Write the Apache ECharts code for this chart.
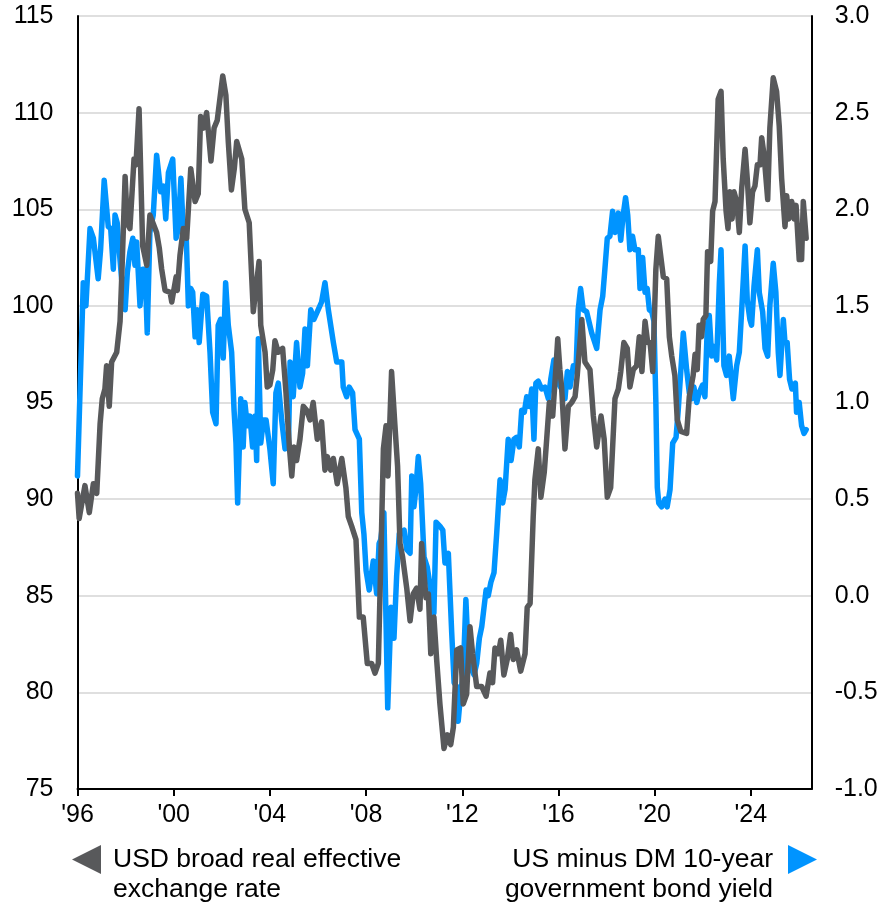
<!DOCTYPE html>
<html>
<head>
<meta charset="utf-8">
<script src="https://cdn.jsdelivr.net/npm/echarts@6/dist/echarts.min.js"></script>
<style>
  html, body { margin: 0; padding: 0; background: #fff; }
  #main { width: 883px; height: 908px; }
</style>
</head>
<body>
<div id="main"></div>
<script>
// x tick labels (years)
var yearTicks = [1996, 2000, 2004, 2008, 2012, 2016, 2020, 2024];

// USD broad real effective exchange rate (left axis)
var reerDates = [
  1996.00, 1996.07, 1996.31, 1996.49, 1996.66, 1996.80, 1996.94, 1997.03, 1997.14, 1997.21,
  1997.32, 1997.42, 1997.63, 1997.77, 1997.84, 1997.98, 1998.07, 1998.18, 1998.35, 1998.43,
  1998.56, 1998.71, 1998.88, 1999.01, 1999.29, 1999.40, 1999.50, 1999.64, 1999.85, 1999.92,
  2000.10, 2000.15, 2000.26, 2000.40, 2000.54, 2000.71, 2000.89, 2001.02, 2001.12, 2001.23,
  2001.37, 2001.55, 2001.68, 2001.81, 2002.04, 2002.17, 2002.27, 2002.40, 2002.52, 2002.62,
  2002.83, 2002.96, 2003.14, 2003.31, 2003.42, 2003.55, 2003.62, 2003.80, 2003.89, 2004.00,
  2004.12, 2004.21, 2004.35, 2004.53, 2004.67, 2004.81, 2004.91, 2005.00, 2005.11, 2005.25,
  2005.39, 2005.53, 2005.67, 2005.80, 2005.97, 2006.15, 2006.29, 2006.39, 2006.53, 2006.64,
  2006.80, 2006.99, 2007.16, 2007.26, 2007.40, 2007.58, 2007.72, 2007.88, 2008.05, 2008.23,
  2008.37, 2008.51, 2008.65, 2008.72, 2008.83, 2008.91, 2009.06, 2009.20, 2009.31, 2009.41,
  2009.52, 2009.69, 2009.83, 2009.96, 2010.10, 2010.24, 2010.31, 2010.49, 2010.59, 2010.69,
  2010.82, 2010.94, 2011.07, 2011.24, 2011.38, 2011.52, 2011.63, 2011.77, 2011.93, 2012.04,
  2012.18, 2012.32, 2012.43, 2012.60, 2012.81, 2012.99, 2013.15, 2013.26, 2013.36, 2013.50,
  2013.60, 2013.73, 2013.87, 2014.01, 2014.12, 2014.26, 2014.43, 2014.61, 2014.70, 2014.82,
  2014.95, 2015.02, 2015.16, 2015.27, 2015.41, 2015.51, 2015.62, 2015.76, 2015.90, 2015.97,
  2016.06, 2016.13, 2016.27, 2016.41, 2016.55, 2016.69, 2016.78, 2016.97, 2017.10, 2017.31,
  2017.45, 2017.59, 2017.77, 2017.90, 2018.03, 2018.17, 2018.35, 2018.49, 2018.59, 2018.72,
  2018.86, 2018.97, 2019.11, 2019.25, 2019.36, 2019.47, 2019.60, 2019.71, 2019.81, 2019.92,
  2020.05, 2020.15, 2020.36, 2020.50, 2020.61, 2020.71, 2020.84, 2020.94, 2021.09, 2021.33,
  2021.44, 2021.60, 2021.68, 2021.77, 2021.85, 2021.95, 2022.02, 2022.13, 2022.20, 2022.33,
  2022.41, 2022.51, 2022.64, 2022.76, 2022.85, 2022.97, 2023.05, 2023.13, 2023.22, 2023.30,
  2023.41, 2023.52, 2023.62, 2023.76, 2023.85, 2023.96, 2024.07, 2024.17, 2024.27, 2024.38,
  2024.45, 2024.55, 2024.70, 2024.79, 2024.93, 2025.07, 2025.18, 2025.28, 2025.42, 2025.49,
  2025.58, 2025.70, 2025.80, 2025.88, 2026.01, 2026.11, 2026.18, 2026.30
];
var reerValues = [
  90.3, 89.0, 90.7, 89.3, 90.8, 90.3, 93.9, 95.2, 95.7, 96.9,
  94.8, 97.1, 97.6, 99.2, 101.5, 106.7, 104.3, 104.0, 107.6, 107.3,
  110.2, 103.1, 102.1, 104.7, 103.8, 103.0, 101.9, 100.8, 100.7, 100.2,
  101.5, 100.8, 102.6, 104.0, 103.5, 107.1, 105.4, 105.8, 109.8, 109.2,
  110.0, 107.5, 109.2, 109.6, 111.9, 110.9, 108.5, 106.0, 107.1, 108.5,
  107.6, 105.0, 104.3, 99.7, 100.9, 102.3, 99.0, 97.6, 95.8, 95.9,
  96.7, 98.2, 97.6, 97.8, 95.5, 92.7, 91.2, 92.7, 92.0, 93.1,
  94.8, 94.6, 94.1, 95.0, 93.1, 94.0, 91.5, 92.2, 91.5, 92.1,
  90.8, 92.1, 90.6, 89.1, 88.6, 87.9, 83.9, 83.9, 81.5, 81.5,
  81.0, 81.5, 88.8, 92.6, 93.8, 91.2, 96.6, 93.8, 91.7, 87.7,
  87.0, 85.4, 83.7, 85.1, 85.4, 84.3, 87.7, 84.9, 85.1, 82.0,
  83.9, 81.6, 79.4, 77.1, 77.8, 77.3, 78.2, 82.2, 82.3, 79.4,
  79.9, 83.4, 82.0, 80.3, 80.3, 79.8, 81.0, 80.5, 82.3, 82.0,
  82.7, 80.9, 81.7, 83.0, 81.7, 82.2, 81.1, 82.0, 84.4, 84.6,
  89.1, 91.0, 92.6, 90.1, 91.4, 93.1, 95.0, 94.3, 96.9, 98.3,
  96.7, 95.8, 92.6, 94.8, 95.0, 95.3, 96.4, 99.3, 97.1, 96.7,
  94.3, 92.7, 94.3, 93.1, 90.1, 90.6, 95.2, 95.7, 96.6, 98.1,
  97.8, 95.8, 96.7, 96.9, 98.4, 96.6, 99.2, 98.1, 98.1, 96.6,
  101.9, 103.6, 101.5, 101.4, 98.4, 97.4, 96.4, 94.1, 93.5, 93.4,
  95.3, 96.4, 97.5, 96.7, 99.0, 98.4, 99.3, 99.5, 102.8, 102.3,
  104.9, 105.4, 110.7, 111.1, 107.6, 104.9, 104.0, 105.9, 104.5, 105.9,
  105.4, 103.8, 106.1, 108.1, 106.6, 104.3, 105.9, 106.2, 107.3, 107.3,
  108.7, 107.8, 105.5, 109.2, 111.8, 111.1, 109.3, 106.6, 104.1, 105.7,
  104.5, 105.4, 104.5, 105.2, 102.4, 102.4, 105.4, 103.5
];

// US minus DM 10-year government bond yield (right axis)
var yieldDates = [
  1996.00, 1996.24, 1996.35, 1996.52, 1996.66, 1996.86, 1996.96, 1997.11, 1997.28, 1997.38,
  1997.49, 1997.56, 1997.65, 1997.74, 1997.88, 1997.98, 1998.07, 1998.18, 1998.30, 1998.39,
  1998.46, 1998.60, 1998.71, 1998.81, 1998.90, 1999.01, 1999.15, 1999.29, 1999.46, 1999.57,
  1999.67, 1999.78, 1999.96, 2000.10, 2000.19, 2000.30, 2000.40, 2000.51, 2000.61, 2000.71,
  2000.79, 2000.89, 2000.98, 2001.06, 2001.21, 2001.37, 2001.51, 2001.62, 2001.76, 2001.85,
  2001.95, 2002.06, 2002.16, 2002.27, 2002.41, 2002.51, 2002.59, 2002.66, 2002.79, 2002.89,
  2002.96, 2003.06, 2003.17, 2003.28, 2003.38, 2003.45, 2003.52, 2003.62, 2003.73, 2003.84,
  2004.00, 2004.14, 2004.25, 2004.35, 2004.49, 2004.63, 2004.77, 2004.84, 2004.97, 2005.11,
  2005.25, 2005.36, 2005.46, 2005.56, 2005.70, 2005.83, 2006.01, 2006.15, 2006.29, 2006.43,
  2006.64, 2006.78, 2006.99, 2007.05, 2007.19, 2007.30, 2007.44, 2007.54, 2007.72, 2007.82,
  2007.91, 2008.00, 2008.13, 2008.30, 2008.44, 2008.54, 2008.61, 2008.74, 2008.90, 2009.04,
  2009.16, 2009.27, 2009.38, 2009.58, 2009.69, 2009.83, 2009.90, 2009.99, 2010.07, 2010.17,
  2010.27, 2010.41, 2010.54, 2010.69, 2010.82, 2010.91, 2011.07, 2011.19, 2011.28, 2011.42,
  2011.56, 2011.66, 2011.77, 2011.83, 2011.93, 2012.04, 2012.15, 2012.25, 2012.35, 2012.49,
  2012.60, 2012.71, 2012.81, 2012.99, 2013.08, 2013.19, 2013.32, 2013.43, 2013.57, 2013.68,
  2013.78, 2013.91, 2014.03, 2014.15, 2014.26, 2014.37, 2014.47, 2014.58, 2014.68, 2014.79,
  2014.89, 2014.98, 2015.06, 2015.16, 2015.30, 2015.44, 2015.58, 2015.68, 2015.81, 2015.99,
  2016.13, 2016.27, 2016.37, 2016.48, 2016.62, 2016.73, 2016.82, 2016.92, 2017.03, 2017.17,
  2017.38, 2017.59, 2017.73, 2017.84, 2017.93, 2018.03, 2018.14, 2018.25, 2018.35, 2018.49,
  2018.59, 2018.69, 2018.79, 2018.88, 2018.97, 2019.08, 2019.18, 2019.32, 2019.39, 2019.50,
  2019.60, 2019.69, 2019.78, 2019.88, 2019.97, 2020.05, 2020.11, 2020.17, 2020.29, 2020.43,
  2020.52, 2020.64, 2020.75, 2020.89, 2020.98, 2021.19, 2021.33, 2021.44, 2021.54, 2021.63,
  2021.75, 2021.85, 2021.99, 2022.09, 2022.19, 2022.27, 2022.37, 2022.47, 2022.58, 2022.69,
  2022.76, 2022.88, 2022.99, 2023.10, 2023.27, 2023.41, 2023.52, 2023.62, 2023.76, 2023.85,
  2023.96, 2024.03, 2024.13, 2024.27, 2024.35, 2024.49, 2024.59, 2024.70, 2024.79, 2024.93,
  2025.04, 2025.14, 2025.21, 2025.35, 2025.42, 2025.51, 2025.61, 2025.71, 2025.85, 2025.90,
  2026.01, 2026.11, 2026.21, 2026.30
];
var yieldValues = [
  0.62, 1.62, 1.50, 1.90, 1.85, 1.64, 1.79, 2.15, 1.91, 1.90,
  1.69, 1.97, 1.93, 1.78, 1.57, 1.48, 1.67, 1.78, 1.85, 1.71,
  1.83, 1.50, 1.69, 1.69, 1.36, 1.88, 1.97, 2.28, 2.09, 2.12,
  1.95, 2.19, 2.26, 1.85, 1.90, 2.16, 1.88, 1.91, 1.50, 1.59,
  1.57, 1.34, 1.48, 1.31, 1.56, 1.55, 1.26, 0.95, 0.89, 1.40,
  1.43, 1.23, 1.62, 1.40, 1.26, 0.96, 0.79, 0.48, 1.02, 0.77,
  1.00, 0.88, 0.93, 0.77, 0.93, 0.70, 1.33, 0.79, 0.91, 0.91,
  0.76, 0.58, 1.05, 1.10, 0.91, 0.76, 0.77, 1.21, 1.03, 1.31,
  1.08, 1.15, 1.38, 1.19, 1.48, 1.43, 1.48, 1.52, 1.62, 1.48,
  1.31, 1.21, 1.21, 1.08, 1.03, 1.08, 1.05, 0.86, 0.81, 0.43,
  0.32, 0.13, 0.03, 0.18, 0.01, 0.27, 0.29, 0.43, -0.58, -0.06,
  -0.22, 0.10, 0.32, 0.34, 0.24, 0.22, 0.62, 0.46, 0.55, 0.72,
  0.58, 0.20, 0.15, 0.03, -0.09, 0.38, 0.36, 0.34, 0.17, 0.22,
  -0.19, -0.45, -0.47, -0.65, -0.51, -0.40, -0.02, -0.30, -0.37, -0.41,
  -0.35, -0.22, -0.16, 0.03, 0.00, 0.07, 0.12, 0.32, 0.60, 0.48,
  0.55, 0.81, 0.70, 0.81, 0.82, 0.77, 0.96, 0.95, 1.03, 0.98,
  1.07, 0.81, 1.10, 1.11, 1.07, 1.08, 1.02, 1.12, 1.22, 1.10,
  1.07, 1.02, 1.16, 1.08, 1.19, 1.17, 1.48, 1.59, 1.48, 1.47,
  1.36, 1.28, 1.48, 1.55, 1.69, 1.85, 1.86, 1.99, 1.88, 1.98,
  1.84, 1.97, 2.06, 1.97, 1.79, 1.86, 1.79, 1.79, 1.59, 1.75,
  1.57, 1.59, 1.48, 1.47, 1.42, 1.00, 0.56, 0.48, 0.46, 0.50,
  0.46, 0.55, 0.79, 0.82, 0.96, 1.36, 1.17, 1.05, 1.02, 1.08,
  1.00, 1.05, 1.09, 1.03, 1.40, 1.45, 1.24, 1.29, 1.22, 1.62,
  1.79, 1.19, 1.14, 1.24, 1.02, 1.19, 1.26, 1.48, 1.81, 1.53,
  1.43, 1.40, 1.60, 1.79, 1.57, 1.47, 1.28, 1.24, 1.50, 1.72,
  1.57, 1.26, 1.14, 1.43, 1.31, 1.31, 1.12, 1.07, 1.10, 0.95,
  1.00, 0.88, 0.84, 0.86
];

var reerName = "USD broad real effective\nexchange rate";
var yieldName = "US minus DM 10-year\ngovernment bond yield";

function pairs(xs, ys) {
  return xs.map(function (x, i) { return [x, ys[i]]; });
}

var font = "'Liberation Sans', Arial, sans-serif";
var myChart = echarts.init(document.getElementById("main"), null, { renderer: "canvas" });

// legend text: an empty first line keeps the icon level with the first text line
var legendText = {
  fontFamily: font,
  fontSize: 26.5,
  color: "#000",
  lineHeight: 30,
};

myChart.setOption({
  animation: false,
  textStyle: { fontFamily: font },
  grid: {
    left: 77.5,
    right: 71.3,
    top: 16,
    bottom: 119,
    containLabel: false,
  },
  legend: [
    {
      data: [reerName],
      left: 72,
      top: 814.5,
      padding: 0,
      selectedMode: false,
      itemWidth: 29,
      itemHeight: 29,
      icon: "path://M0,5L10,0L10,10Z",
      formatter: function (name) {
        return "\n" + name;
      },
      textStyle: Object.assign({ padding: [0, 0, 0, 7] }, legendText),
    },
    {
      data: [yieldName],
      right: 66,
      top: 814.5,
      padding: 0,
      align: "right",
      selectedMode: false,
      itemWidth: 29,
      itemHeight: 29,
      icon: "path://M0,0L10,5L0,10Z",
      formatter: function (name) {
        return "\n" + name;
      },
      textStyle: Object.assign({ padding: [0, 10, 0, 0] }, legendText),
    },
  ],
  xAxis: {
    type: "value",
    min: 1996,
    max: 2026.53,
    interval: 4,
    splitLine: { show: false },
    axisLine: { onZero: false, lineStyle: { color: "#000", width: 2 } },
    axisTick: {
      show: true,
      length: 7,
      customValues: yearTicks,
      lineStyle: { color: "#000", width: 2 },
    },
    axisLabel: {
      customValues: yearTicks,
      margin: 14,
      fontSize: 25,
      color: "#000",
      fontFamily: font,
      formatter: function (v) {
        return "'" + String(v).slice(2);
      },
    },
  },
  yAxis: [
    {
      type: "value",
      position: "left",
      min: 75,
      max: 115,
      interval: 5,
      axisLine: { show: true, lineStyle: { color: "#000", width: 2 } },
      axisTick: { show: false },
      axisLabel: { margin: 24, fontSize: 25, color: "#000", fontFamily: font },
      splitLine: { show: true, lineStyle: { color: "#d4d4d4", width: 1.5 } },
    },
    {
      type: "value",
      position: "right",
      min: -1,
      max: 3,
      interval: 0.5,
      axisLine: { show: true, lineStyle: { color: "#000", width: 2 } },
      axisTick: { show: false },
      axisLabel: {
        margin: 23,
        fontSize: 25,
        color: "#000",
        fontFamily: font,
        formatter: function (v) {
          return v.toFixed(1);
        },
      },
      splitLine: { show: false },
    },
  ],
  series: [
    {
      name: yieldName,
      type: "line",
      yAxisIndex: 1,
      data: pairs(yieldDates, yieldValues),
      showSymbol: false,
      color: "#0094ff",
      lineStyle: { color: "#0094ff", width: 5.5, join: "round", cap: "round" },
    },
    {
      name: reerName,
      type: "line",
      yAxisIndex: 0,
      data: pairs(reerDates, reerValues),
      showSymbol: false,
      color: "#58595b",
      lineStyle: { color: "#58595b", width: 5.5, join: "round", cap: "round" },
    },
  ],
});
</script>
</body>
</html>
